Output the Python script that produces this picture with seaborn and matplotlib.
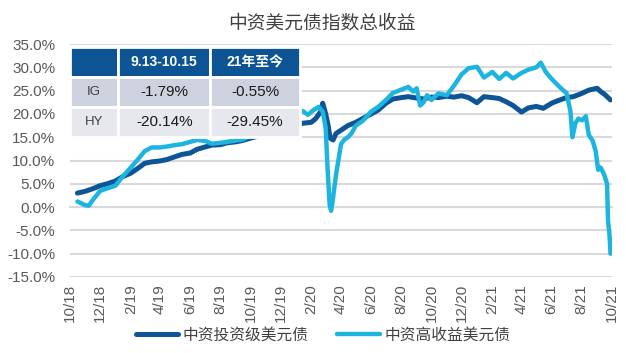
import pandas as pd
import matplotlib
matplotlib.use('Agg')
import matplotlib.pyplot as plt
import matplotlib.dates as mdates
from matplotlib.ticker import FuncFormatter
import seaborn as sns

# 中资投资级美元债 (IG) 总收益, %
ig_dates = ['2018-10-16', '2018-11-01', '2018-11-15', '2018-12-01', '2018-12-15',
            '2019-01-01', '2019-01-15', '2019-02-01', '2019-02-15', '2019-03-01',
            '2019-03-15', '2019-04-01', '2019-04-15', '2019-05-01', '2019-05-15',
            '2019-06-01', '2019-06-15', '2019-07-01', '2019-07-15', '2019-08-01',
            '2019-08-15', '2019-09-01', '2019-09-15', '2019-10-01', '2019-10-15',
            '2019-11-01', '2019-11-15', '2019-12-01', '2019-12-15', '2020-01-01',
            '2020-01-15', '2020-02-01', '2020-02-10', '2020-02-20', '2020-02-24',
            '2020-03-01', '2020-03-06', '2020-03-10', '2020-03-16', '2020-03-22',
            '2020-04-01', '2020-04-15', '2020-05-01', '2020-05-15', '2020-06-01',
            '2020-06-15', '2020-07-01', '2020-07-15', '2020-08-01', '2020-08-15',
            '2020-09-01', '2020-09-15', '2020-10-01', '2020-10-15', '2020-11-01',
            '2020-11-15', '2020-12-01', '2020-12-15', '2021-01-01', '2021-01-15',
            '2021-02-01', '2021-02-15', '2021-03-01', '2021-03-15', '2021-04-01',
            '2021-04-15', '2021-05-01', '2021-05-15', '2021-06-01', '2021-06-15',
            '2021-07-01', '2021-07-15', '2021-08-01', '2021-08-15', '2021-09-01',
            '2021-09-08', '2021-09-16', '2021-09-22', '2021-09-28']
ig_values = [3.0, 3.4, 3.9, 4.6, 5.0,
             5.6, 6.5, 7.3, 8.3, 9.4,
             9.7, 9.9, 10.2, 10.8, 11.3,
             11.6, 12.4, 12.9, 13.3, 13.4,
             13.8, 14.0, 14.3, 14.8, 15.2,
             15.6, 16.0, 16.4, 17.0, 17.6,
             18.0, 18.2, 19.0, 20.5, 22.3,
             20.0, 17.5, 14.8, 14.4, 15.8,
             16.5, 17.5, 18.2, 19.0, 20.0,
             20.8, 22.3, 23.2, 23.5, 23.7,
             23.4, 23.2, 23.6, 23.5, 23.8,
             23.6, 23.9, 23.5, 22.4, 23.7,
             23.5, 23.3, 22.6, 21.8, 20.4,
             21.3, 21.6, 21.2, 22.3, 22.9,
             23.5, 23.7, 24.4, 25.1, 25.5,
             24.8, 24.2, 23.6, 23.0]

# 中资高收益美元债 (HY) 总收益, %
hy_dates = ['2018-10-16', '2018-10-24', '2018-11-01', '2018-11-08', '2018-11-16',
            '2018-12-01', '2018-12-15', '2019-01-01', '2019-01-15', '2019-02-01',
            '2019-02-15', '2019-03-01', '2019-03-15', '2019-04-01', '2019-04-15',
            '2019-05-01', '2019-05-15', '2019-06-01', '2019-06-15', '2019-07-01',
            '2019-07-15', '2019-08-01', '2019-08-15', '2019-09-01', '2019-09-15',
            '2019-10-01', '2019-10-15', '2019-11-01', '2019-11-15', '2019-12-01',
            '2019-12-15', '2020-01-01', '2020-01-15', '2020-01-25', '2020-02-05',
            '2020-02-16', '2020-02-24', '2020-03-01', '2020-03-05', '2020-03-09',
            '2020-03-12', '2020-03-16', '2020-03-22', '2020-04-01', '2020-04-08',
            '2020-04-15', '2020-04-22', '2020-05-01', '2020-05-15', '2020-06-01',
            '2020-06-15', '2020-07-01', '2020-07-15', '2020-08-01', '2020-08-15',
            '2020-08-25', '2020-09-01', '2020-09-08', '2020-09-15', '2020-09-22',
            '2020-10-01', '2020-10-15', '2020-11-01', '2020-11-15', '2020-12-01',
            '2020-12-15', '2021-01-01', '2021-01-15', '2021-02-01', '2021-02-15',
            '2021-03-01', '2021-03-15', '2021-04-01', '2021-04-15', '2021-05-01',
            '2021-05-10', '2021-05-20', '2021-06-01', '2021-06-15', '2021-06-25',
            '2021-07-01', '2021-07-09', '2021-07-13', '2021-07-19', '2021-07-25',
            '2021-08-01', '2021-08-09', '2021-08-15', '2021-08-23', '2021-08-29',
            '2021-09-03', '2021-09-08', '2021-09-15', '2021-09-21', '2021-09-23',
            '2021-09-26', '2021-09-28']
hy_values = [1.2, 0.8, 0.4, 0.3, 1.5,
             3.5, 4.0, 4.6, 6.5, 8.5,
             10.2, 12.0, 12.8, 12.8, 13.0,
             13.3, 13.5, 14.0, 14.4, 14.2,
             13.6, 13.8, 14.0, 14.3, 14.5,
             15.3, 16.0, 16.8, 17.6, 18.5,
             19.3, 20.0, 20.6, 19.8, 20.8,
             21.5, 20.5, 17.0, 8.0, 0.5,
             -0.8, 2.0, 7.0, 13.5, 14.5,
             15.0, 15.8, 17.5, 18.5, 20.5,
             21.5, 23.0, 24.5, 25.2, 25.8,
             24.8, 25.5, 21.8, 22.5, 24.0,
             23.0, 24.4, 24.0, 26.0, 28.5,
             29.8, 30.1, 27.8, 29.0, 27.5,
             28.8, 27.6, 28.8, 29.5, 30.0,
             31.0, 29.0, 27.5, 26.0, 25.0,
             24.5, 20.5, 15.0, 18.0, 19.0,
             18.6, 19.5, 15.5, 14.2, 12.0,
             8.0, 8.5, 7.0, 5.0, -3.0,
             -6.0, -10.0]

series_names = ['中资投资级美元债', '中资高收益美元债']
table_cols = ['', '9.13-10.15', '21年至今']
table_rows = [['IG', '-1.79%', '-0.55%'],
              ['HY', '-20.14%', '-29.45%']]

ig = pd.DataFrame({'date': pd.to_datetime(ig_dates), 'value': ig_values})
hy = pd.DataFrame({'date': pd.to_datetime(hy_dates), 'value': hy_values})

sns.set_style('white')
plt.rcParams['font.family'] = ['Liberation Sans', 'Noto Sans CJK SC']
plt.rcParams['axes.unicode_minus'] = False

fig = plt.figure(figsize=(6.26, 3.53), dpi=100)
ax = fig.add_axes([70 / 626, 1 - 277 / 353, 542 / 626, 233 / 353])

sns.lineplot(data=ig, x='date', y='value', ax=ax, color='#0D5597', lw=3.6,
             label=series_names[0], zorder=3)
sns.lineplot(data=hy, x='date', y='value', ax=ax, color='#1DB5E0', lw=3.2,
             label=series_names[1], zorder=4)
handles, labels = ax.get_legend_handles_labels()
ax.get_legend().remove()

ax.set_ylim(-15, 35)
ax.set_yticks(range(-15, 36, 5))
ax.yaxis.set_major_formatter(FuncFormatter(lambda v, p: f'{v:.1f}%'))
ax.set_xlim(pd.Timestamp('2018-10-01'), pd.Timestamp('2021-10-01'))
ax.xaxis.set_major_locator(mdates.MonthLocator(bymonth=[2, 4, 6, 8, 10, 12]))
ax.xaxis.set_major_formatter(FuncFormatter(
    lambda v, p: f'{mdates.num2date(v).month}/{mdates.num2date(v).year % 100}'))
ax.set_xlabel('')
ax.set_ylabel('')

ax.yaxis.grid(True, color='#D9D9D9', lw=1.5)
ax.xaxis.grid(False)
for s in ['top', 'right', 'left']:
    ax.spines[s].set_visible(False)
ax.spines['bottom'].set_position(('data', 0))
ax.spines['bottom'].set_color('#D9D9D9')
ax.spines['bottom'].set_linewidth(1.5)
ax.tick_params(axis='x', direction='out', length=4.5, width=1.2, color='#D9D9D9',
               pad=51, labelsize=11, labelcolor='#595959', rotation=90)
ax.tick_params(axis='y', length=0, pad=10.5, labelsize=11, labelcolor='#595959')

# summary table
tbl = ax.table(cellText=table_rows, colLabels=table_cols, colWidths=[0.21, 0.40, 0.39],
               cellLoc='center', bbox=[0, 0.601, 0.424, 0.386], zorder=10)
tbl.auto_set_font_size(False)
for (r, c), cell in tbl.get_celld().items():
    cell.set_edgecolor('white')
    cell.set_linewidth(2)
    txt = cell.get_text()
    if r == 0:
        cell.set_facecolor('#0C5494')
        txt.set_color('white')
        txt.set_fontweight('bold')
        txt.set_fontsize(10)
    else:
        cell.set_facecolor('#CDD2DE' if r == 1 else '#E6E8EE')
        txt.set_color('#404040' if c == 0 else '#1A1A1A')
        txt.set_fontsize(9.5 if c == 0 else 11)

fig.text(322 / 626, 1 - 24 / 353, '中资美元债指数总收益', ha='center', va='center',
         fontsize=13.5, color='#404040')
fig.legend(handles, labels, loc='center', bbox_to_anchor=(323 / 626, 1 - 335 / 353),
           ncol=2, frameon=False, fontsize=11.3, handlelength=2.7,
           handletextpad=0.3, columnspacing=1.8, labelcolor='#404040')

fig.savefig('out.png', dpi=100)
